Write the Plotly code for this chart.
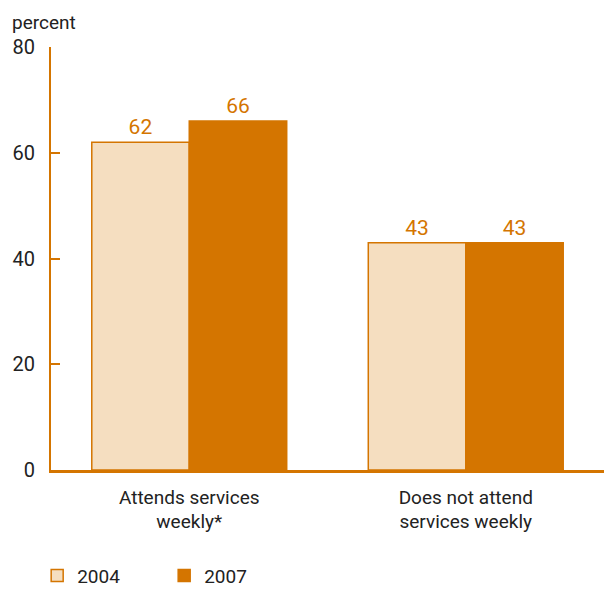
import plotly.graph_objects as go

categories = ["Attends services<br>weekly*", "Does not attend<br>services weekly"]
years = ["2004", "2007"]
values_2004 = [62, 43]
values_2007 = [66, 43]
y_ticks = [0, 20, 40, 60, 80]

ORANGE = "#D47500"
LIGHT = "#F5DEC0"
FONT = "Roboto, Arial, sans-serif"

fig = go.Figure()
fig.add_trace(go.Bar(
    name=years[0], x=categories, y=values_2004,
    marker=dict(color=LIGHT, line=dict(color=ORANGE, width=1.5)),
    text=[str(v) for v in values_2004], textposition="outside",
    textfont=dict(color=ORANGE, size=21, family=FONT), cliponaxis=False,
))
fig.add_trace(go.Bar(
    name=years[1], x=categories, y=values_2007,
    marker=dict(color=ORANGE, line=dict(color=ORANGE, width=1.5)),
    text=[str(v) for v in values_2007], textposition="outside",
    textfont=dict(color=ORANGE, size=21, family=FONT), cliponaxis=False,
))

fig.update_layout(
    width=604, height=591,
    margin=dict(l=51, r=0, t=47, b=121, autoexpand=False),
    paper_bgcolor="white", plot_bgcolor="white",
    barmode="group", bargap=0.295, bargroupgap=0,
    font=dict(family=FONT, size=19, color="#222222"),
    showlegend=True,
    legend=dict(orientation="h", x=-0.025, y=-0.25, xanchor="left", yanchor="middle",
                font=dict(size=19, color="#222222"), traceorder="normal",
                itemwidth=30, entrywidth=82, entrywidthmode="pixels"),
    xaxis=dict(showline=True, linecolor=ORANGE, linewidth=2.5, ticks="",
               tickfont=dict(size=19, color="#222222"), showgrid=False, zeroline=False,
               ticklabelstandoff=8, automargin=False),
    yaxis=dict(range=[0, 80], tickvals=y_ticks, showline=True, linecolor=ORANGE, linewidth=2,
               ticks="inside", ticklen=9, tickwidth=2, tickcolor=ORANGE,
               showgrid=False, zeroline=False, tickfont=dict(size=20, color="#222222"),
               ticklabelstandoff=10, automargin=False),
    annotations=[dict(text="percent", xref="paper", yref="paper", x=-0.075, y=1.0,
                      yshift=11, xanchor="left", yanchor="bottom", showarrow=False,
                      font=dict(size=19, color="#222222"))],
)

fig.write_html("out.html", post_script="document.body.style.margin='0';",
               config={"displayModeBar": False})
